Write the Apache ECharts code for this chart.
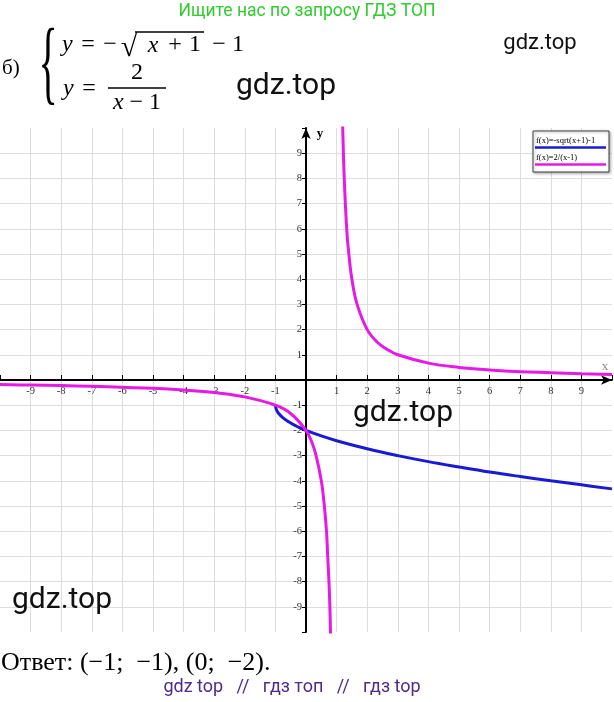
<!DOCTYPE html>
<html>
<head>
<meta charset="utf-8">
<script src="https://cdn.jsdelivr.net/npm/echarts@6/dist/echarts.min.js"></script>
<style>
html,body{margin:0;padding:0;background:#fff;}
#c{width:614px;height:702px;}
</style>
</head>
<body>
<div id="c"></div>
<script>
// ---- data ----
const xTicks = [-9,-8,-7,-6,-5,-4,-3,-2,-1,1,2,3,4,5,6,7,8,9];
const yTicks = [-9,-8,-7,-6,-5,-4,-3,-2,-1,1,2,3,4,5,6,7,8,9];
const sqrtX = [-1, -0.97, -0.9, -0.75, -0.5, -0.25, 0, 0.5, 1, 2, 3, 4, 5, 6, 7, 8, 9, 10];
const sqrtY = [-1, -1.17, -1.32, -1.5, -1.71, -1.87, -2, -2.22, -2.41, -2.73, -3, -3.24, -3.45, -3.65, -3.83, -4, -4.16, -4.32];
const hypRightX = [1.18, 1.2, 1.25, 1.33, 1.4, 1.5, 1.67, 2, 2.33, 2.67, 3, 4, 5, 6, 7, 8, 9, 10];
const hypRightY = [11.1, 10, 8, 6, 5, 4, 3, 2, 1.5, 1.2, 1, 0.67, 0.5, 0.4, 0.33, 0.29, 0.25, 0.22];
const hypLeftX = [-10, -9, -8, -7, -6, -5, -4, -3, -2, -1, -0.5, 0, 0.2, 0.33, 0.5, 0.6, 0.67, 0.71, 0.75, 0.78, 0.8, 0.82];
const hypLeftY = [-0.18, -0.2, -0.22, -0.25, -0.29, -0.33, -0.4, -0.5, -0.67, -1, -1.33, -2, -2.5, -3, -4, -5, -6, -7, -8, -9, -10, -11.1];
const legendNames = ['f(x)=-sqrt(x+1)-1', 'f(x)=2/(x-1)'];
const BLUE = '#1a1ad2', MAGENTA = '#e619e6';

const zip = (xs, ys) => xs.map((x, i) => [x, ys[i]]);

const serif = '"Liberation Serif", "Times New Roman", serif';
const sans = 'Roboto, "Noto Sans", sans-serif';

function txt(text, x, y, font, fill, align, extra) {
  return Object.assign({
    type: 'text', z: 100,
    style: { text: text, x: x, y: y, font: font, fill: fill || '#000',
      textAlign: align || 'left', align: align || 'left',
      textVerticalAlign: 'middle', verticalAlign: 'middle' }
  }, extra || {});
}
function line(x1, y1, x2, y2, color, w) {
  return { type: 'line', z: 100, shape: { x1, y1, x2, y2 }, style: { stroke: color, lineWidth: w } };
}

const GRID = { left: 0, right: 2, top: 128, bottom: 70 };
const W = 614, H = 702;
const plotW = W - GRID.left - GRID.right, plotH = H - GRID.top - GRID.bottom;

const chart = echarts.init(document.getElementById('c'));
chart.setOption({
  animation: false,
  backgroundColor: '#fff',
  grid: Object.assign({ containLabel: false, outerBoundsMode: 'none' }, GRID),
  xAxis: {
    type: 'value', min: -10, max: 10, interval: 1, position: 'bottom',
    offset: -plotH / 2,
    axisLine: { onZero: false, lineStyle: { color: '#000', width: 2 }, symbol: ['none', 'arrow'], symbolSize: [7, 11] },
    axisTick: { inside: true, length: 5, lineStyle: { color: '#000', width: 1 } },
    axisLabel: {
      formatter: v => xTicks.indexOf(v) >= 0 ? String(v) : '',
      fontFamily: serif, fontSize: 10.5, color: '#333', margin: 6
    },
    splitLine: { show: true, showMinLine: false, showMaxLine: false, lineStyle: { color: '#dedede', width: 1 } }
  },
  yAxis: {
    type: 'value', min: -10, max: 10, interval: 1, position: 'left',
    offset: -plotW / 2,
    axisLine: { onZero: false, lineStyle: { color: '#000', width: 2 }, symbol: ['none', 'arrow'], symbolSize: [7, 11] },
    axisTick: { inside: false, length: 4, lineStyle: { color: '#000', width: 1 } },
    axisLabel: {
      formatter: v => yTicks.indexOf(v) >= 0 ? String(v) : '',
      fontFamily: serif, fontSize: 10.5, color: '#333', margin: 4
    },
    splitLine: { show: true, showMinLine: false, showMaxLine: false, lineStyle: { color: '#dedede', width: 1 } }
  },
  series: [
    { name: legendNames[0], type: 'line', data: zip(sqrtX, sqrtY), showSymbol: false, smooth: 0.4,
      lineStyle: { color: BLUE, width: 3 }, clip: true, z: 3 },
    { name: legendNames[1], type: 'line', data: zip(hypRightX, hypRightY), showSymbol: false, smooth: 0.4,
      lineStyle: { color: MAGENTA, width: 3 }, clip: true, z: 4 },
    { name: legendNames[1], type: 'line', data: zip(hypLeftX, hypLeftY), showSymbol: false, smooth: 0.4,
      lineStyle: { color: MAGENTA, width: 3 }, clip: true, z: 4 }
  ],
  graphic: [
    txt('Ищите нас по запросу ГДЗ ТОП', 307, 12, '17.5px ' + sans, '#2ecc2e', 'center'),
    txt('б)', 2, 68, '21px ' + serif, '#000', 'left'),
    txt('{', 48, 68, '40px ' + serif, '#000', 'center', { scaleY: 2.35, originX: 48, originY: 68 }),
    // line 1
    txt('y', 62, 45, 'italic 24px ' + serif, '#000', 'left'),
    txt('=', 88, 45, '24px ' + serif, '#000', 'center'),
    txt('−', 110, 45, '24px ' + serif, '#000', 'center'),
    txt('√', 129, 48, '30px ' + serif, '#000', 'center'),
    line(135, 32, 204, 32, '#000', 1.3),
    txt('x', 153, 46, 'italic 24px ' + serif, '#000', 'center'),
    txt('+', 175, 45, '24px ' + serif, '#000', 'center'),
    txt('1', 195, 45, '24px ' + serif, '#000', 'center'),
    txt('−', 219, 45, '24px ' + serif, '#000', 'center'),
    txt('1', 238, 45, '24px ' + serif, '#000', 'center'),
    // line 2
    txt('y', 63, 89, 'italic 24px ' + serif, '#000', 'left'),
    txt('=', 89, 89, '24px ' + serif, '#000', 'center'),
    txt('2', 137, 73, '24px ' + serif, '#000', 'center'),
    line(108, 88, 166, 88, '#000', 1.3),
    { type: 'text', z: 100, style: { text: '{i|x} − 1', x: 137, y: 103, font: '24px ' + serif, fill: '#000', textAlign: 'center', align: 'center', textVerticalAlign: 'middle', verticalAlign: 'middle', rich: { i: { fontStyle: 'italic', fontFamily: serif, fontSize: 24 } } } },
    // watermarks
    txt('gdz.top', 540, 43, '22px ' + sans, '#111', 'center'),
    txt('gdz.top', 286, 86, '30px ' + sans, '#111', 'center'),
    txt('gdz.top', 403, 413, '30px ' + sans, '#111', 'center'),
    txt('gdz.top', 62, 600, '30px ' + sans, '#111', 'center'),
    // axis names
    txt('x', 605, 367, '13px ' + serif, '#888', 'center'),
    txt('y', 320, 134, 'bold 13px ' + serif, '#000', 'center'),
    // legend box
    { type: 'rect', z: 90, shape: { x: 533, y: 131, width: 76, height: 41 },
      style: { fill: '#fff', stroke: '#444', lineWidth: 1, shadowBlur: 3, shadowColor: 'rgba(0,0,0,0.35)', shadowOffsetX: 1, shadowOffsetY: 1 } },
    txt(legendNames[0], 536, 141, '8.5px ' + serif, '#000', 'left'),
    line(535, 147.5, 606, 147.5, BLUE, 2.5),
    txt(legendNames[1], 536, 158, '8.5px ' + serif, '#000', 'left'),
    line(535, 164.5, 606, 164.5, MAGENTA, 2.5),
    // answer
    txt('Ответ: (−1;  −1), (0;  −2).', 1, 663, '26px ' + serif, '#000', 'left'),
    txt('gdz top   //   гдз топ   //   гдз top', 292, 687, '18px ' + sans, '#4e2a8e', 'center')
  ]
});
</script>
</body>
</html>
